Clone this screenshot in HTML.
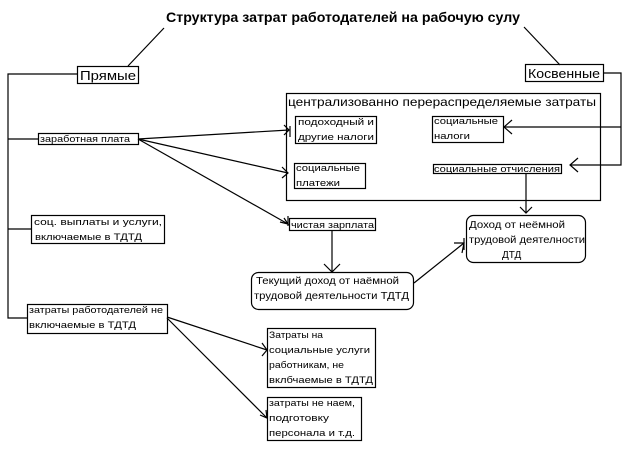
<!DOCTYPE html>
<html><head><meta charset="utf-8"><style>
html,body{margin:0;padding:0;background:#fff;}
svg{display:block;}
text{font-family:"Liberation Sans","DejaVu Sans",sans-serif;fill:#000;}
</style></head><body>
<svg width="624" height="449" viewBox="0 0 624 449" xmlns="http://www.w3.org/2000/svg">
<g stroke="#000" stroke-width="1.2" fill="none">
<line x1="164" y1="28" x2="128" y2="66"/>
<line x1="524" y1="27" x2="560" y2="65"/>
<polyline points="77,74 8,74 8,318 27,318"/>
<line x1="8" y1="139" x2="38" y2="139"/>
<line x1="8" y1="229" x2="31" y2="229"/>
<rect x="77.5" y="66.5" width="61" height="17"/>
<rect x="38.5" y="133.5" width="100" height="11"/>
<rect x="31.5" y="215.5" width="133" height="28"/>
<rect x="27.5" y="304.5" width="140" height="29"/>
<rect x="525.5" y="64.5" width="78" height="17"/>
<rect x="286.5" y="93.5" width="314" height="107"/>
<rect x="295.5" y="116.5" width="81" height="27"/>
<rect x="294.5" y="163.5" width="71" height="25"/>
<rect x="432.5" y="116.5" width="71" height="26"/>
<rect x="433.5" y="164.5" width="128" height="9"/>
<rect x="289.5" y="218.5" width="86" height="12"/>
<rect x="466.5" y="215.5" width="119" height="47" rx="7"/>
<rect x="251.5" y="272.5" width="162" height="37" rx="7"/>
<rect x="267.5" y="328.5" width="108" height="59"/>
<rect x="267.5" y="397.5" width="94" height="43"/>
<polyline points="603,73 621,73 621,165 570,165"/>
<line x1="621" y1="127" x2="504" y2="127"/>
<polyline points="512,120 504,127 512,134"/>
<polyline points="578,158 570,165 578,172"/>
<line x1="138" y1="139" x2="289" y2="130"/>
<polyline points="284,125 289,130 284,135"/>
<line x1="290" y1="126" x2="290" y2="137"/>
<line x1="138" y1="139" x2="288" y2="173"/>
<polyline points="282,167 288,173 282,178"/>
<line x1="138" y1="139" x2="288" y2="224"/>
<polyline points="280,222 288,224 284,218"/>
<line x1="288" y1="216" x2="288" y2="226"/>
<line x1="526" y1="174" x2="526" y2="213"/>
<polyline points="520,207 526,213 532,207"/>
<line x1="332" y1="231" x2="332" y2="272"/>
<polyline points="324,264 332,272 340,264"/>
<line x1="414" y1="283" x2="464" y2="243"/>
<polyline points="454,243 464,243 462,253"/>
<line x1="464" y1="238" x2="464" y2="250"/>
<line x1="167" y1="317" x2="267" y2="350"/>
<polyline points="262,343 267,350 262,356"/>
<line x1="167" y1="318" x2="267" y2="418"/>
<polyline points="266,410 267,418 260,415"/>
</g>
<text x="343" y="22" text-anchor="middle" font-size="14" font-weight="bold" textLength="354" lengthAdjust="spacingAndGlyphs">Структура затрат работодателей на рабочую сулу</text>
<text x="80" y="80" font-size="13" textLength="56" lengthAdjust="spacingAndGlyphs">Прямые</text>
<text x="528" y="78" font-size="13" textLength="72" lengthAdjust="spacingAndGlyphs">Косвенные</text>
<text x="40" y="142" font-size="9" textLength="90" lengthAdjust="spacingAndGlyphs">заработная плата</text>
<text x="34" y="225" font-size="9.5" textLength="128" lengthAdjust="spacingAndGlyphs">соц. выплаты и услуги,</text>
<text x="35" y="240" font-size="9.5" textLength="107" lengthAdjust="spacingAndGlyphs">включаемые в ТДТД</text>
<text x="29" y="313" font-size="9.5" textLength="134" lengthAdjust="spacingAndGlyphs">затраты работодателей не</text>
<text x="29" y="328" font-size="9.5" textLength="107" lengthAdjust="spacingAndGlyphs">включаемые в ТДТД</text>
<text x="288" y="106" font-size="12" textLength="308" lengthAdjust="spacingAndGlyphs">централизованно перераспределяемые затраты</text>
<text x="298" y="125" font-size="9" textLength="76" lengthAdjust="spacingAndGlyphs">подоходный и</text>
<text x="298" y="140" font-size="9" textLength="76" lengthAdjust="spacingAndGlyphs">другие налоги</text>
<text x="296" y="171" font-size="9" textLength="64" lengthAdjust="spacingAndGlyphs">социальные</text>
<text x="296" y="186" font-size="9" textLength="44" lengthAdjust="spacingAndGlyphs">платежи</text>
<text x="434" y="124" font-size="9" textLength="64" lengthAdjust="spacingAndGlyphs">социальные</text>
<text x="434" y="139" font-size="9" textLength="36" lengthAdjust="spacingAndGlyphs">налоги</text>
<text x="434" y="172" font-size="9" textLength="126" lengthAdjust="spacingAndGlyphs">социальные отчисления</text>
<text x="291" y="228" font-size="9" textLength="83" lengthAdjust="spacingAndGlyphs">чистая зарплата</text>
<text x="469" y="228" font-size="10" textLength="96" lengthAdjust="spacingAndGlyphs">Доход от неёмной</text>
<text x="469" y="243" font-size="10" textLength="116" lengthAdjust="spacingAndGlyphs">трудовой деятелности</text>
<text x="502" y="258" font-size="10">ДТД</text>
<text x="256" y="284" font-size="10" textLength="143" lengthAdjust="spacingAndGlyphs">Текущий доход от наёмной</text>
<text x="254" y="299" font-size="10" textLength="155" lengthAdjust="spacingAndGlyphs">трудовой деятельности ТДТД</text>
<text x="269" y="338" font-size="9.5" textLength="54" lengthAdjust="spacingAndGlyphs">Затраты на</text>
<text x="269" y="353" font-size="9.5" textLength="101" lengthAdjust="spacingAndGlyphs">социальные услуги</text>
<text x="269" y="368" font-size="9.5" textLength="75" lengthAdjust="spacingAndGlyphs">работникам, не</text>
<text x="269" y="383" font-size="9.5" textLength="104" lengthAdjust="spacingAndGlyphs">вклбчаемые в ТДТД</text>
<text x="269" y="406" font-size="9.5" textLength="86" lengthAdjust="spacingAndGlyphs">затраты не наем,</text>
<text x="269" y="421" font-size="9.5" textLength="60" lengthAdjust="spacingAndGlyphs">подготовку</text>
<text x="269" y="436" font-size="9.5" textLength="86" lengthAdjust="spacingAndGlyphs">персонала и т.д.</text>
</svg>
</body></html>
